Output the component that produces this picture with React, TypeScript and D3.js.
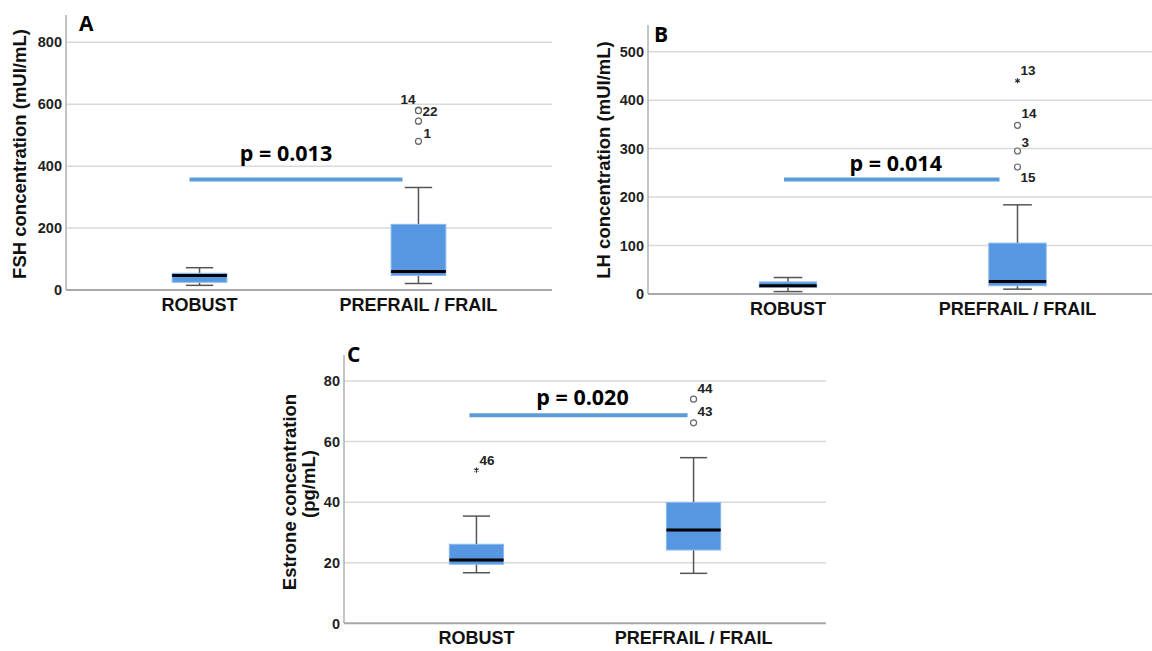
import React, { useEffect, useRef } from 'react';
import * as d3 from 'd3';

const groups = ['ROBUST', 'PREFRAIL / FRAIL'];

// box summaries: [lower whisker, Q1, median, Q3, upper whisker]
const fshRobust = [15, 25, 47, 54, 72];
const fshFrail = [21, 47, 60, 212, 331];
const fshFrailOutliers = [581, 579, 545, 480];
const fshFrailOutlierIds = ['14', '22', '', '1'];
const fshTicks = [0, 200, 400, 600, 800];

const lhRobust = [5, 14, 17, 25, 34];
const lhFrail = [10, 17, 26, 105, 184];
const lhFrailOutliers = [440, 348, 295, 262];
const lhFrailOutlierIds = ['13', '14', '3', '15'];
const lhFrailOutlierKinds = ['star', 'circle', 'circle', 'circle'];
const lhTicks = [0, 100, 200, 300, 400, 500];

const estRobust = [16.7, 19.5, 20.9, 26.1, 35.4];
const estFrail = [16.5, 24.2, 30.8, 39.9, 54.7];
const estRobustOutliers = [50.6];
const estRobustOutlierIds = ['46'];
const estFrailOutliers = [74, 66.2];
const estFrailOutlierIds = ['44', '43'];
const estTicks = [0, 20, 40, 60, 80];

const pLabels = ['p = 0.013', 'p = 0.014', 'p = 0.020'];
const sigLevels = [357, 236, 68.7];

const ARIAL = '"Liberation Sans", Arial, sans-serif';
const CALIBRI = '"Open Sans", "Noto Sans", sans-serif';
const BOX_FILL = '#5597e1';
const SIG_COLOR = '#5b9bd8';

const App = () => {
  const svgRef = useRef(null);

  useEffect(() => {
    const svg = d3.select(svgRef.current);
    svg.selectAll('*').remove();

    const panels = [
      {
        letter: 'A', letterPos: [79, 31],
        x0: 66, x1: 552, yTop: 15, yBottom: 290, max: 888,
        ticks: fshTicks,
        yLabel: ['FSH concentration (mUI/mL)'], yLabelPos: [[19, 154]],
        boxes: [fshRobust, fshFrail],
        outliers: [
          [],
          fshFrailOutliers.map((v, i) => ({ v, id: fshFrailOutlierIds[i], kind: 'circle' })),
        ],
        labelOffsets: [[], [[-3, -6, 'end'], [4, 5, 'start'], null, [5, -3, 'start']]],
        sig: sigLevels[0], sigDx: [-10, -16], p: pLabels[0], pGap: 18, pDx: -10,
      },
      {
        letter: 'B', letterPos: [654, 42],
        x0: 648, x1: 1157.5, yTop: 25, yBottom: 294, max: 555,
        ticks: lhTicks,
        yLabel: ['LH concentration (mUI/mL)'], yLabelPos: [[603, 160]],
        boxes: [lhRobust, lhFrail],
        outliers: [
          [],
          lhFrailOutliers.map((v, i) => ({ v, id: lhFrailOutlierIds[i], kind: lhFrailOutlierKinds[i] })),
        ],
        labelOffsets: [[], [[3, -6, 'start'], [4, -7, 'start'], [4, -4, 'start'], [3, 15, 'start']]],
        sig: sigLevels[1], sigDx: [-4, -18], p: pLabels[1], pGap: 9, pDx: 4,
      },
      {
        letter: 'C', letterPos: [347, 362],
        x0: 344, x1: 826, yTop: 355, yBottom: 623.3, max: 88.6,
        ticks: estTicks,
        yLabel: ['Estrone concentration', '(pg/mL)'], yLabelPos: [[289, 492], [308, 484]],
        boxes: [estRobust, estFrail],
        outliers: [
          estRobustOutliers.map((v, i) => ({ v, id: estRobustOutlierIds[i], kind: 'star' })),
          estFrailOutliers.map((v, i) => ({ v, id: estFrailOutlierIds[i], kind: 'circle' })),
        ],
        labelOffsets: [[[3, -5, 'start']], [[4, -6, 'start'], [4, -7, 'start']]],
        sig: sigLevels[2], sigDx: [-7, -6], p: pLabels[2], pGap: 10, pDx: 4,
      },
    ];

    panels.forEach((pn) => {
      const g = svg.append('g');
      const x = d3.scalePoint().domain(groups).range([pn.x0, pn.x1]).padding(0.61);
      const y = d3.scaleLinear().domain([0, pn.max]).range([pn.yBottom, pn.yTop]);
      const step = x.step();
      const boxW = step * 0.25;
      const capW = boxW * 0.5;

      // gridlines
      g.selectAll('.grid')
        .data(pn.ticks.filter((t) => t > 0))
        .enter().append('line')
        .attr('x1', pn.x0).attr('x2', Math.min(pn.x1, 1152))
        .attr('y1', (d) => y(d)).attr('y2', (d) => y(d))
        .attr('stroke', '#d9d9d9').attr('stroke-width', 1.5);

      // axes lines
      g.append('line')
        .attr('x1', pn.x0).attr('x2', pn.x0)
        .attr('y1', pn.yTop).attr('y2', pn.yBottom)
        .attr('stroke', '#b0b0b0').attr('stroke-width', 1.5);
      g.append('line')
        .attr('x1', pn.x0).attr('x2', Math.min(pn.x1, 1152))
        .attr('y1', pn.yBottom).attr('y2', pn.yBottom)
        .attr('stroke', '#a8a8a8').attr('stroke-width', 2);

      // tick labels
      g.selectAll('.tick')
        .data(pn.ticks)
        .enter().append('text')
        .attr('x', pn.x0 - 4)
        .attr('y', (d) => y(d))
        .attr('dy', '0.36em')
        .attr('text-anchor', 'end')
        .attr('font-family', ARIAL).attr('font-weight', 'bold').attr('font-size', 14.5)
        .attr('fill', '#1f1f1f')
        .text((d) => d);

      // y label
      pn.yLabel.forEach((lbl, i) => {
        const [lx, ly] = pn.yLabelPos[i];
        g.append('text')
          .attr('transform', `translate(${lx},${ly}) rotate(-90)`)
          .attr('text-anchor', 'middle')
          .attr('dy', '0.36em')
          .attr('font-family', ARIAL).attr('font-weight', 'bold').attr('font-size', 18.5)
          .attr('fill', '#111')
          .text(lbl);
      });

      // x labels
      g.selectAll('.xlab')
        .data(groups)
        .enter().append('text')
        .attr('x', (d) => x(d))
        .attr('y', pn.yBottom + 21)
        .attr('text-anchor', 'middle')
        .attr('font-family', ARIAL).attr('font-weight', 'bold').attr('font-size', 18)
        .attr('fill', '#111')
        .text((d) => d);

      // panel letter
      g.append('text')
        .attr('x', pn.letterPos[0]).attr('y', pn.letterPos[1])
        .attr('font-family', CALIBRI).attr('font-weight', 'bold').attr('font-size', 21)
        .attr('fill', '#000')
        .text(pn.letter);

      // boxes
      groups.forEach((grp, gi) => {
        const [lo, q1, med, q3, hi] = pn.boxes[gi];
        const cx = x(grp);
        const bx = g.append('g');
        bx.append('line')
          .attr('x1', cx).attr('x2', cx).attr('y1', y(hi)).attr('y2', y(q3))
          .attr('stroke', '#555').attr('stroke-width', 1.5);
        bx.append('line')
          .attr('x1', cx).attr('x2', cx).attr('y1', y(q1)).attr('y2', y(lo))
          .attr('stroke', '#555').attr('stroke-width', 1.5);
        [lo, hi].forEach((v) => {
          bx.append('line')
            .attr('x1', cx - capW / 2).attr('x2', cx + capW / 2)
            .attr('y1', y(v)).attr('y2', y(v))
            .attr('stroke', '#555').attr('stroke-width', 1.5);
        });
        bx.append('rect')
          .attr('x', cx - boxW / 2).attr('width', boxW)
          .attr('y', y(q3)).attr('height', y(q1) - y(q3))
          .attr('fill', BOX_FILL).attr('stroke', '#8bb9ee').attr('stroke-width', 1);
        bx.append('line')
          .attr('x1', cx - boxW / 2).attr('x2', cx + boxW / 2)
          .attr('y1', y(med)).attr('y2', y(med))
          .attr('stroke', '#000').attr('stroke-width', 3);

        // outliers
        pn.outliers[gi].forEach((o, oi) => {
          if (o.kind === 'star') {
            bx.append('path')
              .attr('d', d3.symbol(d3.symbolAsterisk, 18)())
              .attr('transform', `translate(${cx},${y(o.v)})`)
              .attr('stroke', '#222').attr('stroke-width', 1.1);
          } else {
            bx.append('circle')
              .attr('cx', cx).attr('cy', y(o.v)).attr('r', 3)
              .attr('fill', '#fff').attr('stroke', '#666').attr('stroke-width', 1.2);
          }
          const off = pn.labelOffsets[gi][oi];
          if (o.id && off) {
            bx.append('text')
              .attr('x', cx + off[0]).attr('y', y(o.v) + off[1])
              .attr('text-anchor', off[2])
              .attr('font-family', ARIAL).attr('font-weight', 'bold').attr('font-size', 13.5)
              .attr('fill', '#222')
              .text(o.id);
          }
        });
      });

      // significance bar
      const sx0 = x(groups[0]) + pn.sigDx[0];
      const sx1 = x(groups[1]) + pn.sigDx[1];
      g.append('line')
        .attr('x1', sx0).attr('x2', sx1)
        .attr('y1', y(pn.sig)).attr('y2', y(pn.sig))
        .attr('stroke', SIG_COLOR).attr('stroke-width', 4);
      g.append('text')
        .attr('x', (sx0 + sx1) / 2 + pn.pDx)
        .attr('y', y(pn.sig) - pn.pGap)
        .attr('text-anchor', 'middle')
        .attr('font-family', CALIBRI).attr('font-weight', 'bold').attr('font-size', 21.5)
        .attr('fill', '#000')
        .text(pn.p);
    });
  }, []);

  return (
    <svg
      ref={svgRef}
      width={1152}
      height={651}
      style={{ position: 'absolute', left: 0, top: 0, background: '#fff' }}
    />
  );
};

export default App;
